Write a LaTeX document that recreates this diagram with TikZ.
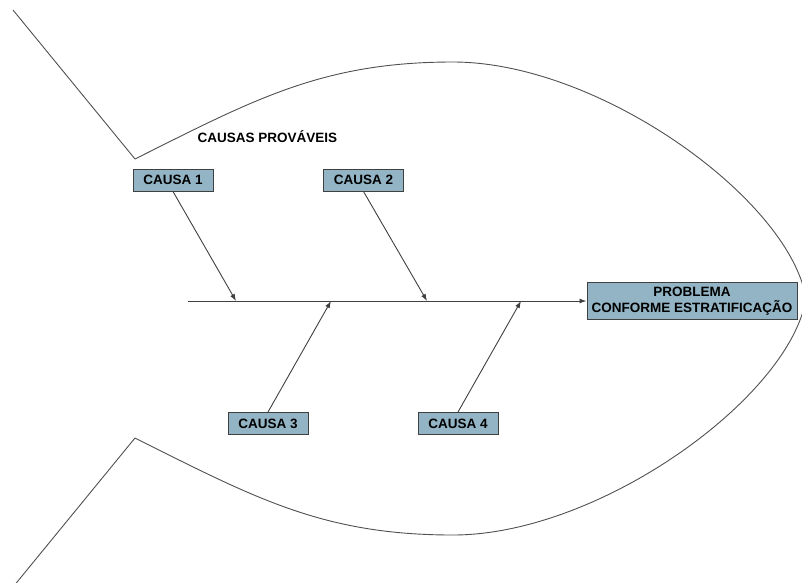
\documentclass[tikz,border=0pt]{standalone}
\usepackage{fontspec}
\setmainfont{Liberation Sans}
\usetikzlibrary{arrows.meta}
\definecolor{boxfill}{HTML}{93B4C4}
\definecolor{edgegray}{HTML}{404040}
\definecolor{linegray}{HTML}{505050}
\tikzset{
  causebox/.style={draw=edgegray, line width=1pt, fill=boxfill,
    minimum width=80pt, minimum height=22pt, inner sep=0pt,
    font=\fontsize{13.5}{16}\selectfont\bfseries},
  effectbox/.style={draw=edgegray, line width=1pt, fill=boxfill,
    minimum width=210pt, minimum height=37pt, inner sep=0pt, align=center,
    font=\fontsize{13.5}{16.5}\selectfont\bfseries},
  outline/.style={draw=linegray, line width=0.9pt},
  bone/.style={draw=edgegray, line width=0.9pt,
    -{Latex[length=7pt,width=5pt]}},
}
\begin{document}
\begin{tikzpicture}[x=1pt, y=-1pt]
  \useasboundingbox (0,0) rectangle (802,582);
  \begin{scope}
    \clip (0,0) rectangle (802,582);
    % fish outline: tail strokes and body curves
    \coordinate (tailTop) at (13,10);
    \coordinate (finTop) at (135,159);
    \coordinate (finBot) at (135,438);
    \coordinate (tailBot) at (13,587);
    \coordinate (nose) at (806,298.5);
    \draw[outline] (tailTop) -- (finTop);
    \draw[outline] (tailBot) -- (finBot);
    \draw[outline] (finTop) .. controls (255,99) and (323,62) .. (453,62)
      .. controls (600,62) and (790,200) .. (nose);
    \draw[outline] (finBot) .. controls (255,498) and (323,535) .. (453,535)
      .. controls (600,535) and (790,397) .. (nose);
  \end{scope}

  % heading
  \node[font=\fontsize{13.5}{16}\selectfont\bfseries] (title) at (267.5,137) {CAUSAS PROVÁVEIS};

  % effect box and spine
  \node[effectbox] (prob) at (692,301) {PROBLEMA\\CONFORME ESTRATIFICAÇÃO};
  \coordinate (spineL) at (188,301);
  \draw[bone] (spineL) -- (prob.west);

  % cause boxes
  \node[causebox] (c1) at (173,180) {CAUSA 1};
  \node[causebox] (c2) at (363.5,180) {CAUSA 2};
  \node[causebox] (c3) at (268,423.5) {CAUSA 3};
  \node[causebox] (c4) at (458,423.5) {CAUSA 4};

  % points where the cause arrows meet the spine
  \coordinate (j1) at (236,301);
  \coordinate (j2) at (427,301);
  \coordinate (j3) at (331,301);
  \coordinate (j4) at (521,301);

  \draw[bone] (c1.south) -- (j1);
  \draw[bone] (c2.south) -- (j2);
  \draw[bone] (c3.north) -- (j3);
  \draw[bone] (c4.north) -- (j4);
\end{tikzpicture}
\end{document}
